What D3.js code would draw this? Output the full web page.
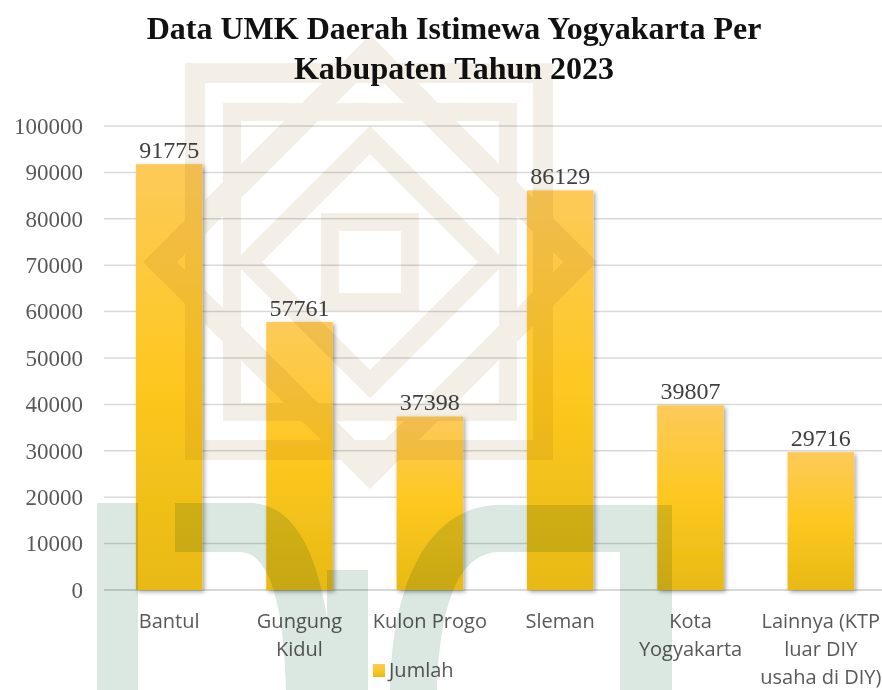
<!DOCTYPE html>
<html>
<head>
<meta charset="utf-8">
<script src="https://cdn.jsdelivr.net/npm/d3@7"></script>
<style>
  body { margin: 0; background: #fff; }
  svg { display: block; }
</style>
</head>
<body>
<script>
// data
const categories = ["Bantul", "Gungung Kidul", "Kulon Progo", "Sleman", "Kota Yogyakarta", "Lainnya (KTP luar DIY usaha di DIY)"];
const jumlah = [91775, 57761, 37398, 86129, 39807, 29716];
const yTicks = [0, 10000, 20000, 30000, 40000, 50000, 60000, 70000, 80000, 90000, 100000];
const titleLines = ["Data UMK Daerah Istimewa Yogyakarta Per", "Kabupaten Tahun 2023"];
const seriesName = "Jumlah";

function main(){
    const canvasWidth = 882;
    const canvasHeight = 690;

    const svg = d3.select("body").append("svg")
        .attr("width", canvasWidth)
        .attr("height", canvasHeight);

    const defs = svg.append("defs");
    const grad = defs.append("linearGradient")
        .attr("id", "barGrad")
        .attr("x1", 0).attr("y1", 0).attr("x2", 0).attr("y2", 1);
    grad.append("stop").attr("offset", "0%").attr("stop-color", "#fdca5a");
    grad.append("stop").attr("offset", "50%").attr("stop-color", "#fdc820");
    grad.append("stop").attr("offset", "100%").attr("stop-color", "#e8b914");

    const shadow = defs.append("filter").attr("id", "shadow")
        .attr("x", "-20%").attr("y", "-5%").attr("width", "150%").attr("height", "115%");
    shadow.append("feDropShadow")
        .attr("dx", 2).attr("dy", 2).attr("stdDeviation", 2)
        .attr("flood-color", "#000").attr("flood-opacity", 0.35);

    // scales
    const x = d3.scaleBand()
        .domain(categories)
        .range([104, 886])
        .paddingInner(0.49)
        .paddingOuter(0.245);
    const y = d3.scaleLinear().domain([0, 100000]).range([590, 126]);

    // title
    svg.append("text")
        .attr("x", 454)
        .attr("y", 39)
        .attr("text-anchor", "middle")
        .attr("font-family", "Liberation Serif, Times New Roman, serif")
        .attr("font-weight", "bold")
        .attr("font-size", "32px")
        .attr("fill", "#111")
        .selectAll("tspan")
        .data(titleLines)
        .join("tspan")
        .attr("x", 454)
        .attr("dy", (d, i) => i === 0 ? 0 : 40)
        .text(d => d);

    // gridlines
    svg.append("g")
        .selectAll("line")
        .data(yTicks)
        .join("line")
        .attr("x1", x.range()[0])
        .attr("x2", x.range()[1])
        .attr("y1", d => y(d))
        .attr("y2", d => y(d))
        .attr("stroke", "#d9d9d9")
        .attr("stroke-width", d => d === 0 ? 2 : 1.5);

    // y axis labels
    const yAxis = svg.append("g")
        .attr("transform", "translate(83,0)")
        .call(d3.axisLeft(y).tickValues(yTicks).tickSize(0).tickPadding(0).tickFormat(d3.format("d")));
    yAxis.select(".domain").remove();
    yAxis.selectAll("text")
        .attr("font-family", "Liberation Serif, Times New Roman, serif")
        .attr("font-size", "23px")
        .attr("fill", "#595959");

    // bars
    svg.append("g")
        .selectAll("rect")
        .data(jumlah)
        .join("rect")
        .attr("x", (d, i) => x(categories[i]))
        .attr("y", d => y(d))
        .attr("width", x.bandwidth())
        .attr("height", d => y(0) - y(d))
        .attr("fill", "url(#barGrad)")
        .attr("filter", "url(#shadow)");

    // value labels
    svg.append("g")
        .selectAll("text")
        .data(jumlah)
        .join("text")
        .attr("x", (d, i) => x(categories[i]) + x.bandwidth() / 2)
        .attr("y", d => y(d) - 6)
        .attr("text-anchor", "middle")
        .attr("font-family", "Liberation Serif, Times New Roman, serif")
        .attr("font-size", "24px")
        .attr("fill", "#404040")
        .text(d => d);

    // category labels, wrapped to the band
    const xLabels = svg.append("g")
        .selectAll("text")
        .data(categories)
        .join("text")
        .attr("x", d => x(d) + x.bandwidth() / 2)
        .attr("y", 628)
        .attr("text-anchor", "middle")
        .attr("font-family", "Open Sans, Noto Sans, sans-serif")
        .attr("font-size", "20px")
        .attr("fill", "#595959");
    xLabels.each(function(d){ wrap(d3.select(this), d, 127, 28); });

    // legend
    const legend = svg.append("g").attr("transform", "translate(373,664)");
    legend.append("rect").attr("width", 12).attr("height", 13).attr("fill", "url(#barGrad)");
    legend.append("text")
        .attr("x", 16).attr("y", 13)
        .attr("font-family", "Open Sans, Noto Sans, sans-serif")
        .attr("font-size", "20px")
        .attr("fill", "#595959")
        .text(seriesName);

    drawWatermark(svg);
}

function wrap(text, label, maxWidth, lineHeight){
    const words = label.split(" ");
    const cx = text.attr("x");
    let line = [];
    let tspan = text.append("tspan").attr("x", cx).attr("dy", 0);
    words.forEach(w => {
        line.push(w);
        tspan.text(line.join(" "));
        if (tspan.node().getComputedTextLength() > maxWidth && line.length > 1) {
            line.pop();
            tspan.text(line.join(" "));
            line = [w];
            tspan = text.append("tspan").attr("x", cx).attr("dy", lineHeight).text(w);
        }
    });
}

// faint logo watermark laid over the page
function drawWatermark(svg){
    const wm = svg.append("g").style("mix-blend-mode", "multiply").attr("fill", "none");
    const beige = "#f3efe7";
    wm.append("rect").attr("x", 195).attr("y", 73).attr("width", 348).attr("height", 377)
        .attr("stroke", beige).attr("stroke-width", 20);
    wm.append("rect").attr("x", 232).attr("y", 112).attr("width", 276).attr("height", 300)
        .attr("stroke", beige).attr("stroke-width", 18);
    wm.append("path").attr("d", "M370,52 L580,262 L370,472 L160,262 Z")
        .attr("stroke", beige).attr("stroke-width", 24);
    wm.append("path").attr("d", "M370,140 L492,262 L370,384 L248,262 Z")
        .attr("stroke", beige).attr("stroke-width", 20);
    wm.append("rect").attr("x", 330).attr("y", 222).attr("width", 80).attr("height", 80)
        .attr("stroke", beige).attr("stroke-width", 18);

    const green = "#dbe7e1";
    const g = wm.append("g").attr("fill", green);
    g.append("rect").attr("x", 97).attr("y", 503).attr("width", 41).attr("height", 187);
    g.append("path").attr("d", "M175,503 H250 C300,503 330,570 333,690 H286 C284,600 268,552 240,552 H175 Z");
    g.append("rect").attr("x", 327).attr("y", 570).attr("width", 41).attr("height", 120);
    g.append("path").attr("d", "M390,690 C392,580 430,505 500,505 H672 V690 H620 V552 H500 C460,552 440,600 437,690 Z");
}

main();
</script>
</body>
</html>
